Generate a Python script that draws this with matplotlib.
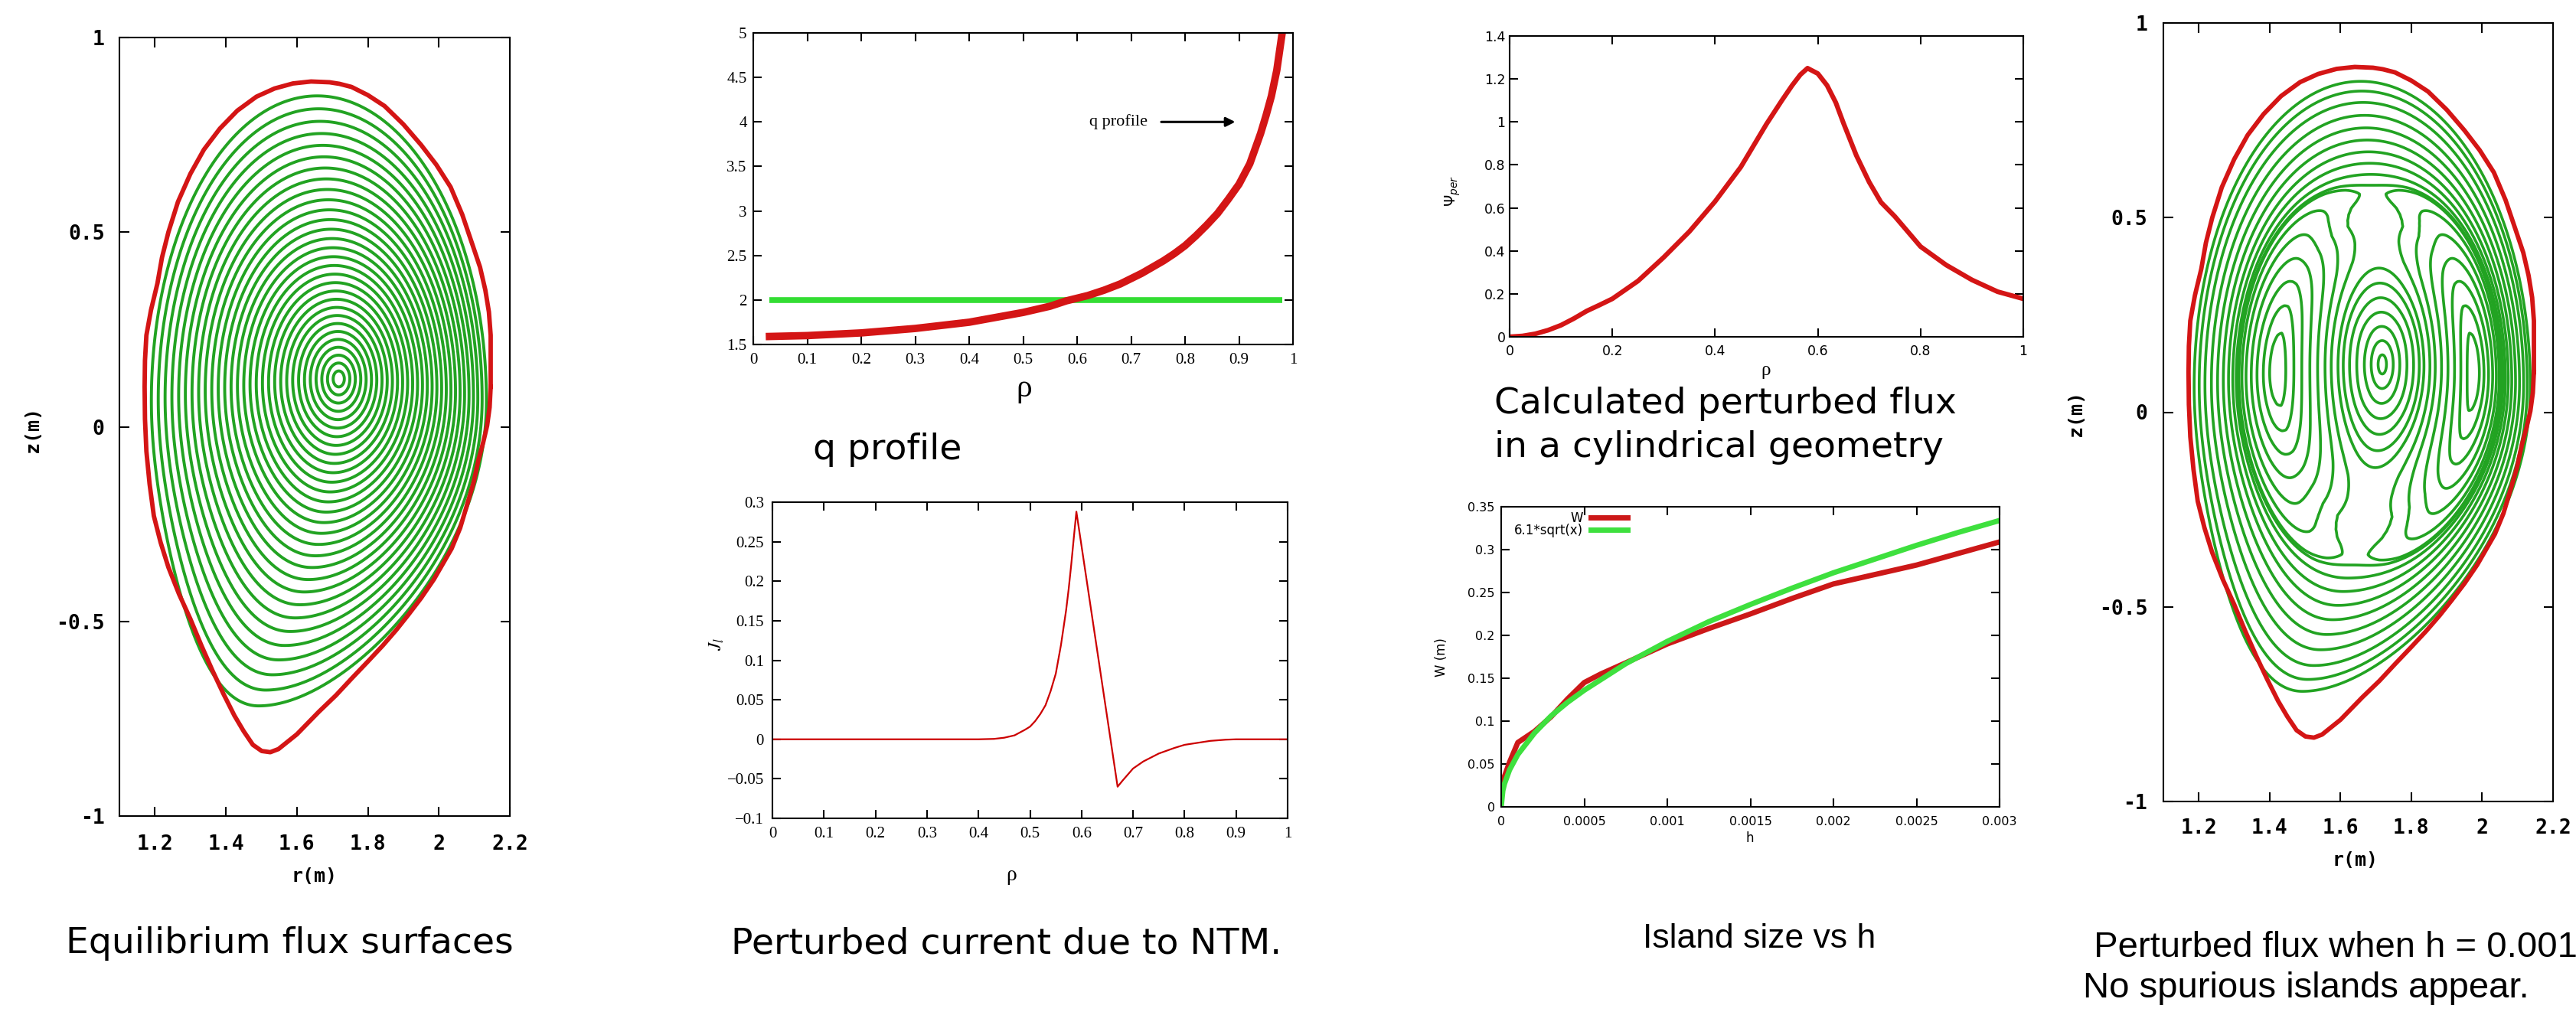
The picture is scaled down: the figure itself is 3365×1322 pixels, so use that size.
import numpy as np
import matplotlib.pyplot as plt

W_PX, H_PX = 3365, 1322

# ---- data ----
# last closed flux surface (red), metres
lcfs_r = [2.146, 2.146, 2.141, 2.131, 2.116, 2.095, 2.066, 2.033, 1.993, 1.950, 1.900, 1.847,
          1.800, 1.754, 1.720, 1.692, 1.640, 1.589, 1.537, 1.486, 1.432, 1.383, 1.338, 1.300,
          1.265, 1.238, 1.220, 1.207, 1.189, 1.176, 1.172, 1.171, 1.172, 1.176, 1.185, 1.197,
          1.216, 1.238, 1.268, 1.300, 1.331, 1.362, 1.393, 1.424, 1.450, 1.476, 1.501, 1.525,
          1.548, 1.600, 1.662, 1.710, 1.756, 1.800, 1.842, 1.880, 1.914, 1.950, 1.986, 2.036,
          2.060, 2.079, 2.098, 2.112, 2.125, 2.136, 2.143, 2.146]
lcfs_z = [0.103, 0.235, 0.295, 0.351, 0.410, 0.467, 0.545, 0.616, 0.673, 0.724, 0.777, 0.824,
          0.852, 0.873, 0.881, 0.885, 0.887, 0.882, 0.869, 0.848, 0.812, 0.766, 0.712, 0.650,
          0.578, 0.500, 0.435, 0.368, 0.300, 0.235, 0.170, 0.103, 0.020, -0.063, -0.147, -0.229,
          -0.297, -0.361, -0.430, -0.494, -0.562, -0.626, -0.686, -0.742, -0.782, -0.817, -0.833,
          -0.836, -0.828, -0.790, -0.732, -0.690, -0.645, -0.603, -0.562, -0.522, -0.483, -0.440,
          -0.392, -0.313, -0.260, -0.202, -0.143, -0.084, -0.040, 0.003, 0.050, 0.103]

# shape of the green flux surfaces (axis, minor radius, shift, elongation, triangularity)
axis_r, axis_z = 1.718, 0.123
minor_a = 0.472
shift_r, shift_z = -0.056, -0.0565
kappa_core, kappa_edge = 1.30, 1.66
delta_top, delta_bottom = 0.01, 0.36
square_lower_left = -0.2
n_surfaces = 30

# q profile
q_rho = [0.03, 0.1, 0.2, 0.3, 0.4, 0.5, 0.55, 0.58, 0.62, 0.65, 0.68, 0.7, 0.72, 0.74,
         0.76, 0.78, 0.8, 0.82, 0.84, 0.86, 0.88, 0.9, 0.92, 0.94, 0.95, 0.96, 0.97, 0.98]
q_val = [1.59, 1.60, 1.63, 1.68, 1.75, 1.86, 1.93, 1.99, 2.05, 2.11, 2.18, 2.24, 2.30, 2.37,
         2.44, 2.52, 2.61, 2.72, 2.84, 2.97, 3.13, 3.30, 3.53, 3.87, 4.07, 4.29, 4.58, 5.0]
q2_rho = [0.03, 0.98]
q2_val = [2.0, 2.0]

# perturbed current J_1
j_rho = [0.0, 0.40, 0.43, 0.45, 0.47, 0.49, 0.50, 0.51, 0.52, 0.53, 0.54, 0.55, 0.56,
         0.57, 0.575, 0.58, 0.585, 0.59, 0.67, 0.68, 0.70, 0.72, 0.75, 0.78, 0.80, 0.83,
         0.85, 0.88, 0.90, 1.0]
j_val = [0.0, 0.0, 0.0005, 0.002, 0.005, 0.012, 0.016, 0.023, 0.032, 0.043, 0.061, 0.083,
         0.119, 0.163, 0.19, 0.221, 0.255, 0.288, -0.060, -0.052, -0.037, -0.028, -0.018,
         -0.011, -0.007, -0.004, -0.002, -0.0005, 0.0, 0.0]

# perturbed flux (cylindrical)
psi_rho = [0.0, 0.025, 0.05, 0.075, 0.1, 0.125, 0.15, 0.175, 0.2, 0.25, 0.3, 0.35, 0.4,
           0.45, 0.475, 0.5, 0.53, 0.55, 0.566, 0.58, 0.60, 0.618, 0.635, 0.65, 0.675, 0.7,
           0.723, 0.75, 0.775, 0.8, 0.85, 0.9, 0.95, 1.0]
psi_val = [0.0, 0.004, 0.014, 0.031, 0.054, 0.085, 0.12, 0.148, 0.177, 0.26, 0.37, 0.49,
           0.63, 0.79, 0.89, 0.99, 1.10, 1.17, 1.22, 1.25, 1.225, 1.17, 1.09, 0.994, 0.844,
           0.72, 0.626, 0.56, 0.49, 0.42, 0.334, 0.265, 0.21, 0.177]

# island size vs h
h_w = [0.0, 0.00005, 0.0001, 0.0002, 0.0003, 0.0004, 0.0005, 0.0006, 0.00075, 0.001,
       0.00125, 0.0015, 0.00175, 0.002, 0.0025, 0.003]
w_val = [0.025, 0.052, 0.075, 0.088, 0.105, 0.126, 0.145, 0.155, 0.168, 0.190,
         0.208, 0.225, 0.243, 0.260, 0.282, 0.309]
h_fit = [0.0, 0.00001, 0.00002, 0.00005, 0.0001, 0.0002, 0.0003, 0.0004, 0.0005, 0.00075,
         0.001, 0.00125, 0.0015, 0.00175, 0.002, 0.00225, 0.0025, 0.00275, 0.003]
w_fit = [0.0, 0.019, 0.027, 0.043, 0.061, 0.086, 0.106, 0.122, 0.136, 0.167,
         0.193, 0.216, 0.236, 0.255, 0.273, 0.289, 0.305, 0.320, 0.334]

island_amp = 0.0045
# radii (along the vertical chord) of the drawn surfaces in the island picture
core_rho = [0.04, 0.10, 0.16, 0.22, 0.28, 0.34, 0.40]
outer_rho = [0.70, 0.735, 0.77, 0.805, 0.84, 0.875, 0.91, 0.945, 0.975, 1.0]
island_frac = [0.01, 0.14, 0.3, 0.47, 0.64, 0.8, 0.93]

RED = '#d41515'
GREEN_DARK = '#22a322'
GREEN = '#33dd33'
SERIF = 'Liberation Serif'
GNU = 'DejaVu Sans Mono'


def surface_rz(rho, th):
    kap = kappa_core + (kappa_edge - kappa_core) * rho ** 2
    lower = np.sin(th) < 0
    dlt = np.where(lower, delta_bottom, delta_top) * rho ** 2
    sq = np.where(lower & (np.cos(th) < 0), square_lower_left, 0.0) * rho ** 2
    r = axis_r + shift_r * rho ** 2 + minor_a * rho * np.cos(th + np.arcsin(dlt) * np.sin(th))
    z = axis_z + shift_z * rho ** 2 + kap * minor_a * rho * np.sin(th + sq * np.sin(2 * th))
    return r, z


rho_g = np.linspace(0, 1.04, 420)
th_g = np.linspace(0, 2 * np.pi, 721)
RHO, TH = np.meshgrid(rho_g, th_g)
RR, ZZ = surface_rz(RHO, TH)

# helical flux + m=2 perturbation for the island picture
q_g = np.interp(rho_g, q_rho, q_val)
dpsi = (1 / q_g - 0.5) * rho_g
psi_h = np.concatenate([[0.0], np.cumsum(0.5 * (dpsi[1:] + dpsi[:-1]) * np.diff(rho_g))])
f_g = np.interp(rho_g, psi_rho, psi_val)
PSI = psi_h[None, :] + island_amp * f_g[None, :] * np.cos(2 * TH)
j90 = np.argmin(np.abs(th_g - np.pi / 2))
row_x = PSI[j90]
i_x = np.argmax(row_x)
rho_x = rho_g[i_x]
psi_x = row_x[i_x]
psi_o = PSI[0].max()
core_levels = np.interp(core_rho, rho_g, row_x)
outer_levels = np.sort(np.interp(outer_rho, rho_g, row_x))
island_levels = psi_x + (psi_o - psi_x) * np.array(island_frac)


fig = plt.figure(figsize=(W_PX / 100, H_PX / 100), dpi=100)


def box(l, t, r, b):
    return fig.add_axes([l / W_PX, 1 - b / H_PX, (r - l) / W_PX, (b - t) / H_PX])


def ftext(x, y, s, **kw):
    fig.text(x / W_PX, 1 - y / H_PX, s, **kw)


def frame(ax, xpad, ypad, length=8):
    ax.tick_params(direction='in', top=True, right=True, length=length, width=1.5)
    ax.tick_params(axis='x', pad=xpad)
    ax.tick_params(axis='y', pad=ypad)
    for sp in ax.spines.values():
        sp.set_linewidth(1.5)


def rz_axes(ax):
    ax.set_xlim(1.1, 2.2)
    ax.set_ylim(-1, 1)
    ax.set_xticks([1.2, 1.4, 1.6, 1.8, 2.0, 2.2], ['1.2', '1.4', '1.6', '1.8', '2', '2.2'],
                  fontfamily=GNU, fontweight='bold', fontsize=19)
    ax.set_yticks([-1, -0.5, 0, 0.5, 1], ['-1', '-0.5', '0', '0.5', '1'],
                  fontfamily=GNU, fontweight='bold', fontsize=19)
    frame(ax, 17, 14, length=9)


# --- equilibrium flux surfaces ---
ax1 = box(156, 49, 666, 1066)
ax1.contour(RR, ZZ, RHO, levels=np.arange(1, n_surfaces + 1) / n_surfaces,
            colors=GREEN_DARK, linewidths=2.8)
ax1.plot(lcfs_r, lcfs_z, color=RED, lw=4.2)
rz_axes(ax1)
ftext(411, 1145, 'r(m)', ha='center', va='center', fontfamily=GNU, fontweight='bold', fontsize=18)
ftext(43, 561, 'z(m)', ha='center', va='center', rotation=90, fontfamily=GNU,
      fontweight='bold', fontsize=18)
ftext(378, 1245, 'Equilibrium flux surfaces', ha='center', va='baseline',
      fontfamily='DejaVu Sans', fontsize=34)

# --- q profile ---
ax2 = box(984, 43, 1689, 450)
ax2.plot(q2_rho, q2_val, color=GREEN, lw=5.5, solid_capstyle='butt')
ax2.plot(q_rho, q_val, color=RED, lw=7)
ax2.set_xlim(0, 1)
ax2.set_ylim(1.5, 5)
xt = np.round(np.arange(0, 1.01, 0.1), 1)
ax2.set_xticks(xt, ['0' if v == 0 else '1' if v == 1 else f'{v:g}' for v in xt],
               fontfamily=SERIF, fontsize=15)
yt = np.arange(1.5, 5.01, 0.5)
ax2.set_yticks(yt, [f'{v:g}' for v in yt], fontfamily=SERIF, fontsize=15)
frame(ax2, 8, 6)
ax2.annotate('', xy=(0.897, 4.0), xytext=(0.752, 4.0),
             arrowprops=dict(arrowstyle='-|>', color='black', lw=2.2, mutation_scale=18))
ax2.text(0.73, 4.0, 'q profile', ha='right', va='center', fontfamily=SERIF, fontsize=16)
ftext(1338, 508, 'ρ', ha='center', va='center', fontfamily=SERIF, fontsize=30)
ftext(1159, 600, 'q profile', ha='center', va='baseline', fontfamily='DejaVu Sans', fontsize=34)

# --- perturbed current ---
ax3 = box(1009, 656, 1682, 1069)
ax3.plot(j_rho, j_val, color='#cc0000', lw=1.6)
ax3.set_xlim(0, 1)
ax3.set_ylim(-0.1, 0.3)
ax3.set_xticks(xt, ['0' if v == 0 else '1' if v == 1 else f'{v:g}' for v in xt],
               fontfamily=SERIF, fontsize=15)
yt3 = np.round(np.arange(-0.1, 0.301, 0.05), 2)
ax3.set_yticks(yt3, [f'{v:g}'.replace('-', '\u2212') for v in yt3], fontfamily=SERIF, fontsize=15)
frame(ax3, 8, 8)
ftext(1321, 1144, 'ρ', ha='center', va='center', fontfamily=SERIF, fontsize=20)
ftext(936, 841, r'$J_l$', ha='center', va='center', rotation=90, fontsize=17,
      math_fontfamily='stix')
ftext(1315, 1246, 'Perturbed current due to NTM.', ha='center', va='baseline',
      fontfamily='DejaVu Sans', fontsize=34)

# --- perturbed flux ---
ax4 = box(1972, 47, 2643, 440)
ax4.plot(psi_rho, psi_val, color=RED, lw=4.5)
ax4.set_xlim(0, 1)
ax4.set_ylim(0, 1.4)
xt4 = np.round(np.arange(0, 1.01, 0.2), 1)
ax4.set_xticks(xt4, [f'{v:g}' for v in xt4], fontfamily='DejaVu Sans', fontsize=12.5)
yt4 = np.round(np.arange(0, 1.41, 0.2), 1)
ax4.set_yticks(yt4, [f'{v:g}' for v in yt4], fontfamily='DejaVu Sans', fontsize=12.5)
frame(ax4, 7, 4)
ftext(2307, 484, 'ρ', ha='center', va='center', fontfamily=SERIF, fontsize=18)
ftext(1898, 250, r'$\Psi_{per}$', ha='center', va='center', rotation=90, fontsize=14)
ftext(1952, 540, 'Calculated perturbed flux', ha='left', va='baseline',
      fontfamily='DejaVu Sans', fontsize=34)
ftext(1952, 597, 'in a cylindrical geometry', ha='left', va='baseline',
      fontfamily='DejaVu Sans', fontsize=34)

# --- island size vs h ---
ax5 = box(1961, 662, 2612, 1054)
ax5.plot(h_w, w_val, color='#cc1818', lw=5, label='W')
ax5.plot(h_fit, w_fit, color='#3ee03e', lw=5, label='6.1*sqrt(x)')
ax5.set_xlim(0, 0.003)
ax5.set_ylim(0, 0.35)
xt5 = [0, 0.0005, 0.001, 0.0015, 0.002, 0.0025, 0.003]
ax5.set_xticks(xt5, ['0', '0.0005', '0.001', '0.0015', '0.002', '0.0025', '0.003'],
               fontfamily='DejaVu Sans', fontsize=11.5)
yt5 = np.round(np.arange(0, 0.351, 0.05), 2)
ax5.set_yticks(yt5, [f'{v:g}' for v in yt5], fontfamily='DejaVu Sans', fontsize=11.5)
frame(ax5, 8.5, 6)
ax5.legend(loc='upper left', bbox_to_anchor=(0.026, 0.985), frameon=False, markerfirst=False,
           prop={'family': 'DejaVu Sans', 'size': 12}, handlelength=2.9, handletextpad=0.6,
           labelspacing=-0.1, borderpad=0, borderaxespad=0)
ftext(2286, 1095, 'h', ha='center', va='center', fontfamily='DejaVu Sans', fontsize=12)
ftext(1883, 859, 'W (m)', ha='center', va='center', rotation=90, fontfamily='DejaVu Sans',
      fontsize=12)
ftext(2298, 1238, 'Island size vs h', ha='center', va='baseline',
      fontfamily='Liberation Sans', fontsize=32)

# --- perturbed flux surfaces with islands ---
ax6 = box(2826, 30, 3335, 1047)
ax6.contour(RR, ZZ, np.ma.masked_where(RHO > rho_x, PSI), levels=core_levels,
            colors=GREEN_DARK, linewidths=2.6, negative_linestyles='solid')
ax6.contour(RR, ZZ, np.ma.masked_where(RHO < rho_x, PSI), levels=outer_levels,
            colors=GREEN_DARK, linewidths=2.6, negative_linestyles='solid')
ax6.contour(RR, ZZ, PSI, levels=island_levels, colors=GREEN_DARK, linewidths=2.6,
            negative_linestyles='solid')
ax6.plot(lcfs_r, lcfs_z, color=RED, lw=4.2)
rz_axes(ax6)
ax6.tick_params(axis='x', pad=16)
ax6.tick_params(axis='y', pad=15)
ftext(3077, 1124, 'r(m)', ha='center', va='center', fontfamily=GNU, fontweight='bold', fontsize=18)
ftext(2712, 540, 'z(m)', ha='center', va='center', rotation=90, fontfamily=GNU,
      fontweight='bold', fontsize=18)
ftext(2722, 1250, ' Perturbed flux when h = 0.001', ha='left', va='baseline',
      fontfamily='Liberation Sans', fontsize=34)
ftext(2721, 1303, 'No spurious islands appear.', ha='left', va='baseline',
      fontfamily='Liberation Sans', fontsize=34)

fig.savefig('out.png', dpi=100)
